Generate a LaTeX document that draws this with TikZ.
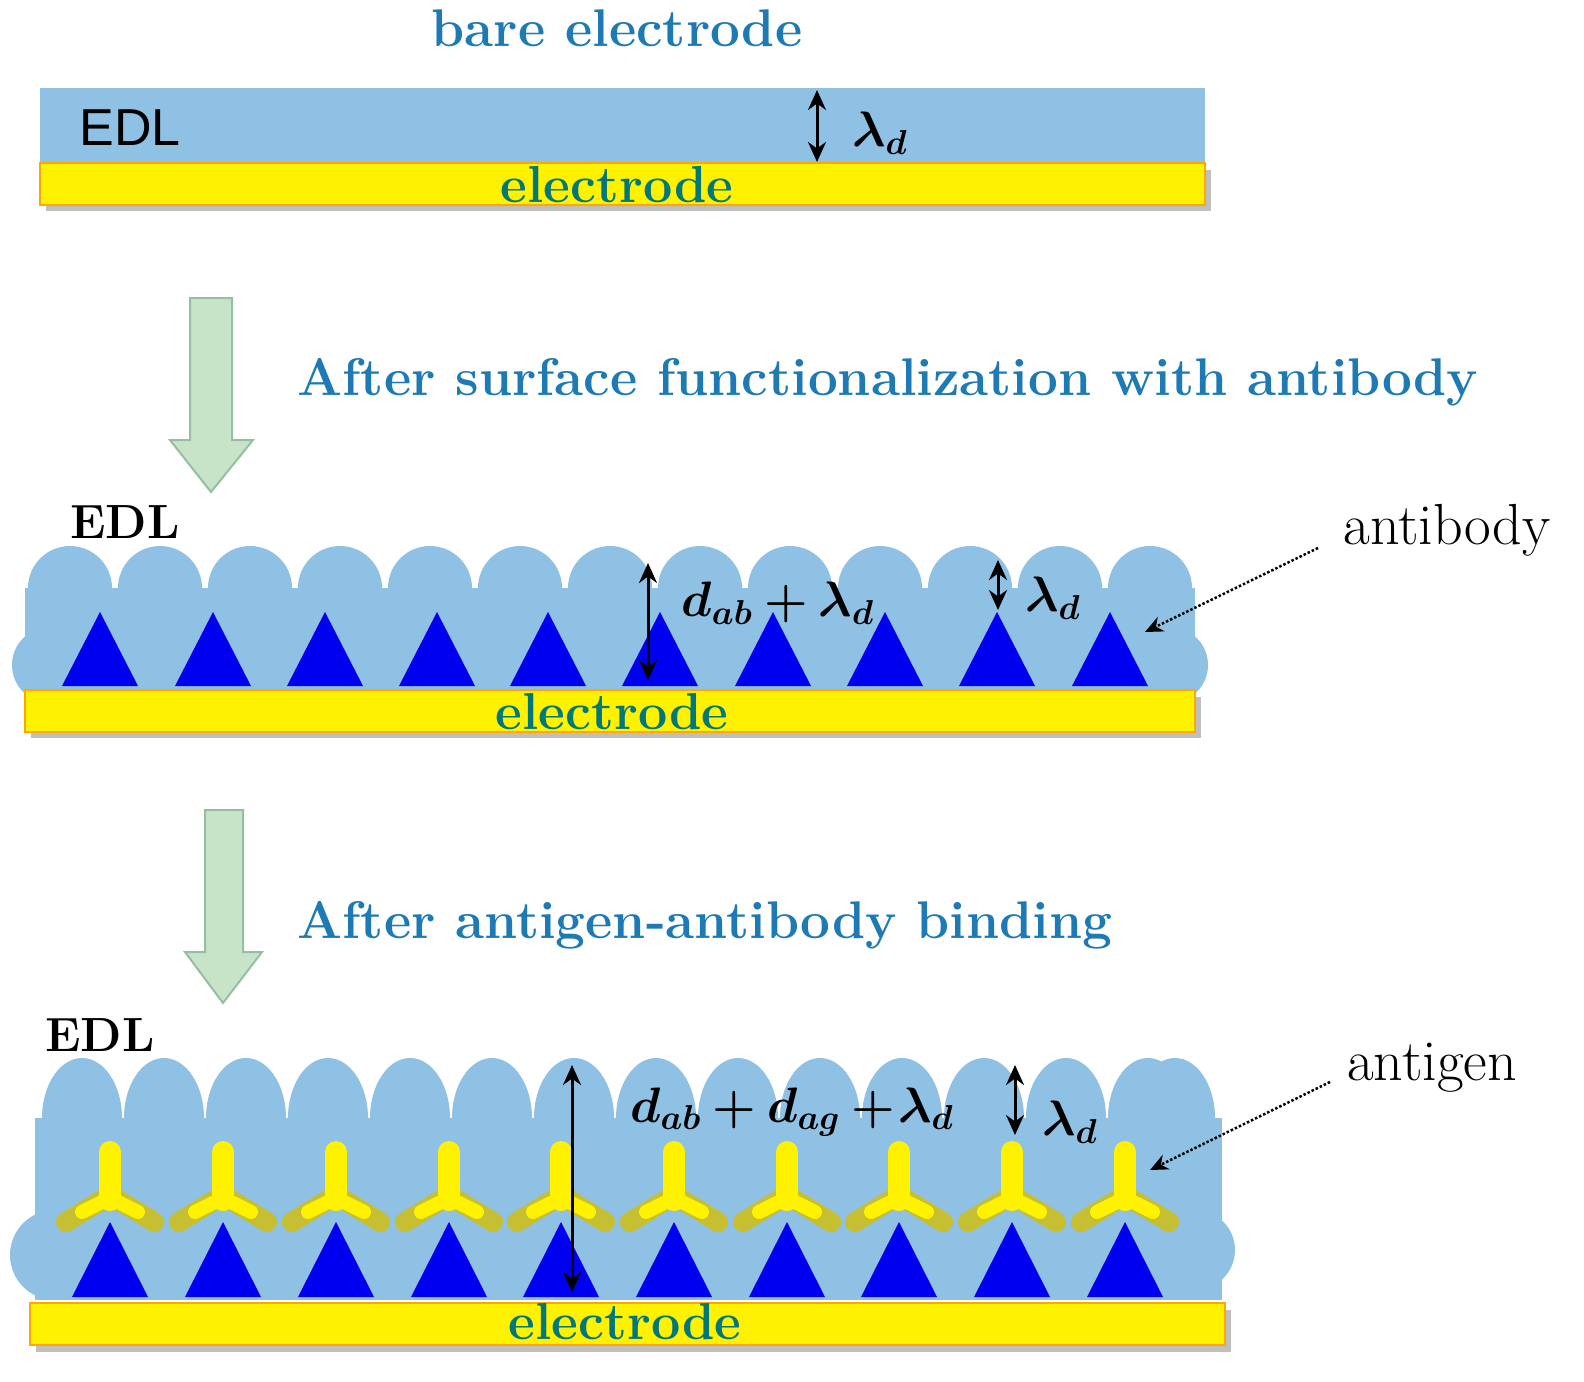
\documentclass[tikz,border=0pt]{standalone}
\usepackage{fontspec}
\usepackage{amsmath,bm}
\newfontfamily\sansf{Liberation Sans}
\usetikzlibrary{arrows.meta}
\definecolor{edl}{RGB}{142,193,228}
\definecolor{tri}{RGB}{0,0,240}
\definecolor{ttl}{RGB}{30,122,180}
\definecolor{elc}{RGB}{0,120,120}
\definecolor{grn}{RGB}{200,228,200}
\definecolor{grnd}{RGB}{150,190,160}
\tikzset{
 edlf/.style={fill=edl,draw=none},
 elec/.style={fill=yellow,draw=orange!70!yellow,line width=1.5},
 shad/.style={fill=black!25,draw=none},
 tri/.style={fill=tri,draw=none},
 ttl/.style={text=ttl,font=\fontsize{53}{60}\selectfont\bfseries},
 lbl/.style={text=elc,font=\fontsize{52}{60}\selectfont\bfseries},
 edlt/.style={font=\fontsize{48}{54}\selectfont\bfseries},
 dim/.style={{Stealth[length=20,width=18]}-{Stealth[length=20,width=18]},line width=3},
 ann/.style={-{Stealth[length=18,width=16]},dotted,line width=2.5},
 math/.style={font=\fontsize{20.74}{24}\selectfont,scale=2.4},
 plain/.style={font=\fontsize{58}{64}\selectfont},
 bigarrow/.style={fill=grn,draw=grnd,line width=2},
 ystem/.style={yellow,line width=22,line cap=round},
 yarm/.style={yellow!75!black,line width=20,line cap=round}
}
\begin{document}
\begin{tikzpicture}[x=1pt,y=-1pt]
\useasboundingbox (0,0) rectangle (1584,1381);
% ---------- panel 1
\node[ttl] (t1) at (617,28) {bare electrode};
\fill[shad] (46,170) rectangle (1211,211);
\fill[edlf] (40,88) rectangle (1205,163);
\draw[elec] (40,163) rectangle (1205,205);
\node[lbl] (e1) at (617,185) {electrode};
\node[font=\fontsize{52}{60}\selectfont\sansf] (edl1) at (130,128) {EDL};
\coordinate (a1t) at (817,90); \coordinate (a1b) at (817,162);
\draw[dim] (a1t) -- (a1b);
\node[math] (l1) at (880,133) {$\bm{\lambda_d}$};
% ---------- arrow 1
\draw[bigarrow] (190,298) -- (232,298) -- (232,440) -- (253,440) -- (211,492) -- (170,440) -- (190,440) -- cycle;
\node[ttl] (t2) at (888,382) {After surface functionalization with antibody};
% ---------- panel 2
\node[edlt] (edl2) at (125,522) {EDL};
\fill[edlf] (25,588) rectangle (1195,690);
\foreach \x in {70,160,250,340,430,520,610,700,790,880,970,1060,1150}
  \fill[edlf] (\x,588) circle (42);
\fill[edlf] (50,665) circle (38);
\fill[edlf] (1170,665) circle (38);
\foreach \x in {100,213,325,437,548,660,773,885,997,1110}
  \fill[tri] (\x-38,686) -- (\x,612) -- (\x+38,686) -- cycle;
\fill[shad] (31,697) rectangle (1201,738);
\draw[elec] (25,690) rectangle (1195,732);
\node[lbl] (e2) at (612,712) {electrode};
\coordinate (a2t) at (648,563); \coordinate (a2b) at (648,680);
\draw[dim] (a2t) -- (a2b);
\node[math] (l2) at (778,603) {$\bm{d_{ab}+\lambda_d}$};
\coordinate (a3t) at (998,560); \coordinate (a3b) at (998,610);
\draw[dim] (a3t) -- (a3b);
\node[math] (l3) at (1053,598) {$\bm{\lambda_d}$};
\node[plain] (ab) at (1447,530) {antibody};
\coordinate (abt) at (1145,632);
\draw[ann] (1318,548) -- (abt);
% ---------- arrow 2
\draw[bigarrow] (205,810) -- (243,810) -- (243,952) -- (262,952) -- (223,1003) -- (185,952) -- (205,952) -- cycle;
\node[ttl] (t3) at (705,925) {After antigen-antibody binding};
% ---------- panel 3
\node[edlt] (edl3) at (100,1035) {EDL};
\fill[edlf] (35,1118) rectangle (1222,1300);
\foreach \x in {82,164,246,328,410,492,574,656,738,820,902,984,1066,1148,1175}
  \fill[edlf] (\x,1118) ellipse (40 and 60);
\fill[edlf] (55,1255) circle (45);
\fill[edlf] (1195,1250) circle (40);
\foreach \x in {110,223,336,449,561,674,787,899,1012,1125}{
  \draw[yarm] (\x,1195) -- (\x-44,1222);
  \draw[yarm] (\x,1195) -- (\x+44,1222);
  \draw[ystem] (\x,1152) -- (\x,1200);
  \draw[yellow,line width=14,line cap=round] (\x,1198) -- (\x-28,1212);
  \draw[yellow,line width=14,line cap=round] (\x,1198) -- (\x+28,1212);
  \fill[tri] (\x-38,1297) -- (\x,1222) -- (\x+38,1297) -- cycle;
}
\fill[shad] (36,1310) rectangle (1231,1352);
\draw[elec] (30,1303) rectangle (1225,1345);
\node[lbl] (e3) at (625,1322) {electrode};
\coordinate (a4t) at (572,1065); \coordinate (a4b) at (572,1292);
\draw[dim] (a4t) -- (a4b);
\node[math] (l4) at (792,1112) {$\bm{d_{ab}+d_{ag}+\!\lambda_d}$};
\coordinate (a5t) at (1015,1065); \coordinate (a5b) at (1015,1135);
\draw[dim] (a5t) -- (a5b);
\node[math] (l5) at (1070,1122) {$\bm{\lambda_d}$};
\node[plain] (ag) at (1432,1068) {antigen};
\coordinate (agt) at (1150,1170);
\draw[ann] (1330,1082) -- (agt);
\end{tikzpicture}
\end{document}
